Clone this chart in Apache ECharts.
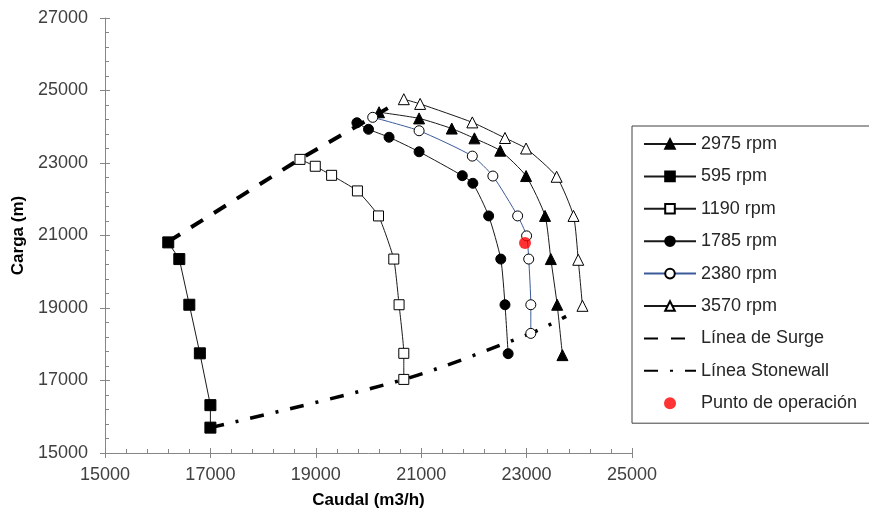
<!DOCTYPE html>
<html><head><meta charset="utf-8">
<script src="https://cdn.jsdelivr.net/npm/echarts@6/dist/echarts.min.js"></script>
<style>html,body{margin:0;padding:0;background:#fff}#c{width:869px;height:521px}</style>
</head><body><div id="c"></div>
<script>
// ---- data (Caudal m3/h, Carga m) ----
const names = ['2975 rpm','595 rpm','1190 rpm','1785 rpm','2380 rpm','3570 rpm','Línea de Surge','Línea Stonewall','Punto de operación'];
const rpm2975 = [[20200,24400],[20960,24230],[21580,23950],[22010,23680],[22500,23340],[22990,22640],[23350,21540],[23460,20350],[23580,19090],[23680,17700]];
const rpm595  = [[16200,20810],[16410,20350],[16600,19090],[16800,17750],[17000,16320],[17000,15700]];
const rpm1190 = [[18700,23100],[18990,22910],[19300,22660],[19790,22230],[20190,21540],[20480,20350],[20580,19090],[20670,17750],[20670,17030]];
const rpm1785 = [[19780,24110],[20000,23930],[20390,23710],[20960,23310],[21780,22650],[21980,22440],[22280,21540],[22510,20350],[22590,19090],[22650,17740]];
const rpm2380 = [[20080,24260],[20960,23890],[21970,23190],[22360,22640],[22830,21540],[23000,20990],[23040,20350],[23080,19090],[23080,18300]];
const rpm3570 = [[20670,24760],[20980,24630],[21970,24120],[22590,23690],[22990,23400],[23570,22620],[23890,21540],[23980,20330],[24060,19060]];
const surge     = [[16200,20830],[18700,23110],[20420,24560]];
const stonewall = [[17000,15700],[20670,17030],[23080,18300],[23750,18770]];
const operacion = [[22970,20790]];
const xTicks = {min:15000, max:25000, interval:2000};
const yTicks = {min:15000, max:27000, interval:2000};

const FONT = 'Liberation Sans, Arial, sans-serif';
const AX = '#868686';
const LINE = '#1a1a1a';
const plain = v => String(v);

function curve(name, data, symbol, size, fill, lineColor, smooth){
  return {
    name, type:'line', data, symbol, symbolSize:size, smooth: smooth || false,
    xAxisIndex:0, yAxisIndex:0,
    lineStyle:{color:lineColor||LINE, width:1},
    itemStyle:{color:fill, borderColor:'#000', borderWidth:1},
    emphasis:{disabled:true}, animation:false
  };
}
function mkX(main){
  return Object.assign({type:'value', position:'bottom', splitLine:{show:false}}, xTicks, main ? {
    name:'Caudal (m3/h)', nameLocation:'middle', nameGap:39,
    nameTextStyle:{fontFamily:FONT, fontSize:17, fontWeight:'bold', color:'#000'},
    axisLine:{show:true, lineStyle:{color:AX, width:1}},
    axisTick:{show:true, inside:false, length:5, lineStyle:{color:AX}},
    axisLabel:{fontFamily:FONT, fontSize:18, color:'#404040', margin:13, formatter:plain}
  } : {
    axisLine:{show:false}, axisLabel:{show:false},
    axisTick:{show:true, inside:true, length:5, lineStyle:{color:AX}},
    minorTick:{show:true, splitNumber:5, length:4, lineStyle:{color:AX}}
  });
}
function mkY(main){
  return Object.assign({type:'value', position:'left', splitLine:{show:false}}, yTicks, main ? {
    name:'Carga (m)', nameLocation:'middle', nameGap:77, nameRotate:90,
    nameTextStyle:{fontFamily:FONT, fontSize:17, fontWeight:'bold', color:'#000'},
    axisLine:{show:true, lineStyle:{color:AX, width:1}},
    axisTick:{show:true, inside:false, length:5, lineStyle:{color:AX}},
    axisLabel:{fontFamily:FONT, fontSize:18, color:'#404040', margin:17, formatter:plain}
  } : {
    axisLine:{show:false}, axisLabel:{show:false},
    axisTick:{show:true, inside:true, length:5, lineStyle:{color:AX}},
    minorTick:{show:true, splitNumber:5, length:4, lineStyle:{color:AX}}
  });
}

const chart = echarts.init(document.getElementById('c'), null, {renderer:'canvas'});
chart.setOption({
  animation:false,
  backgroundColor:'#fff',
  grid:{left:105, right:237, top:18, bottom:68, containLabel:false},
  xAxis:[mkX(true), mkX(false)],
  yAxis:[mkY(true), mkY(false)],
  legend:{
    orient:'vertical', left:632, top:126,
    padding:[8, 40, 10, 11],
    borderColor:'#404040', borderWidth:1,
    itemWidth:52, itemHeight:12, itemGap:12.4,
    textStyle:{fontFamily:FONT, fontSize:18, lineHeight:20, color:'#262626'},
    data:names
  },
  series:[
    curve(names[0], rpm2975, 'triangle', 11, '#000', LINE, 0.2),
    curve(names[1], rpm595, 'rect', 11, '#000', LINE, false),
    curve(names[2], rpm1190, 'rect', 10, '#fff', LINE, 0.15),
    curve(names[3], rpm1785, 'circle', 10, '#000', LINE, 0.2),
    curve(names[4], rpm2380, 'circle', 10, '#fff', '#3a5a9a', 0.2),
    curve(names[5], rpm3570, 'triangle', 11, '#fff', LINE, 0.2),
    {name:names[6], type:'line', data:surge, symbol:'none', smooth:false,
     lineStyle:{color:'#000', width:4, type:[14,13]},
     itemStyle:{color:'rgba(0,0,0,0)', borderWidth:0}, emphasis:{disabled:true}},
    {name:names[7], type:'line', data:stonewall, symbol:'none', smooth:0.3,
     lineStyle:{color:'#000', width:3.5, type:[14,12,3,12]},
     itemStyle:{color:'rgba(0,0,0,0)', borderWidth:0}, emphasis:{disabled:true}},
    {name:names[8], type:'scatter', data:operacion, symbol:'circle', symbolSize:12, z:5,
     itemStyle:{color:'#ff0000'}, emphasis:{disabled:true}}
  ]
});
</script></body></html>
